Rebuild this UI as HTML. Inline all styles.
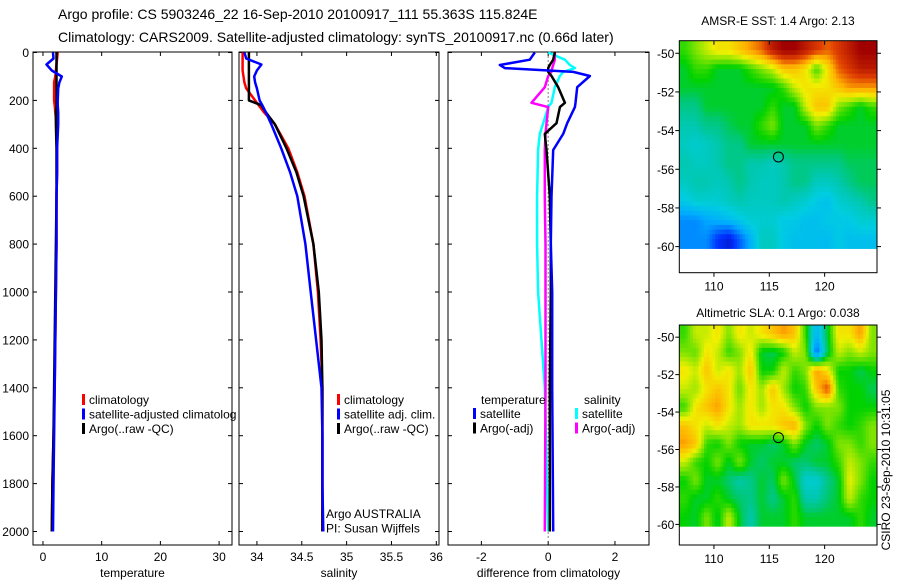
<!DOCTYPE html>
<html><head><meta charset="utf-8"><style>
html,body{margin:0;padding:0;background:#fff;}
svg{display:block;font-family:"Liberation Sans",sans-serif;}
</style></head><body>
<svg id="fig" width="900" height="580" viewBox="0 0 900 580" xmlns="http://www.w3.org/2000/svg">
<text x="58" y="19" font-size="14">Argo profile: CS 5903246_22 16-Sep-2010 20100917_111 55.363S 115.824E</text>
<text x="58" y="42" font-size="14">Climatology: CARS2009. Satellite-adjusted climatology: synTS_20100917.nc (0.66d later)</text>
<text x="778" y="25" font-size="12" text-anchor="middle">AMSR-E SST: 1.4 Argo: 2.13</text>
<text x="778" y="317" font-size="12" text-anchor="middle">Altimetric SLA: 0.1 Argo: 0.038</text>
<text transform="translate(890,470) rotate(-90)" font-size="12" text-anchor="middle">CSIRO 23-Sep-2010 10:31:05</text>
<g id="plots"></g>
</svg>
<script>
// ---- data ----
const depths = [0,25,50,75,100,125,150,200,220,250,300,400,500,600,800,1000,1200,1400,1600,1800,2000];
const tempClim = [2.5,2.4,2.3,2.2,2.1,1.9,1.9,1.9,2.0,2.1,2.3,2.4,2.4,2.3,2.3,2.2,2.1,2.0,1.8,1.6,1.5];
const tempSat  = [1.7,1.8,0.6,1.5,3.2,2.8,2.6,2.5,2.5,2.6,2.6,2.4,2.4,2.3,2.3,2.2,2.1,2.0,1.9,1.8,1.7];
const tempArgo = [2.3,2.3,2.3,2.3,2.3,2.3,2.3,2.3,2.3,2.2,2.2,2.3,2.3,2.3,2.2,2.1,2.0,1.9,1.8,1.6,1.5];
const salClim = [33.84,33.84,33.84,33.84,33.85,33.86,33.88,33.98,34.02,34.08,34.2,34.35,34.45,34.53,34.63,34.68,34.71,34.73,34.73,34.73,34.73];
const salSat  = [33.86,33.88,34.05,34.0,33.97,33.98,34.0,34.03,34.06,34.1,34.16,34.27,34.37,34.45,34.54,34.6,34.66,34.72,34.73,34.73,34.74];
const salArgo = [33.91,33.91,33.91,33.91,33.91,33.91,33.91,33.91,34.05,34.1,34.2,34.33,34.44,34.52,34.63,34.69,34.72,34.73,34.73,34.73,34.73];
const diffDepths = [0,30,52,65,81,98,145,210,228,295,340,407,600,800,1000,1400,2000];
const diffTempSat  = [-0.4,-0.55,-1.45,-1.3,0.75,1.25,0.87,0.82,0.8,0.57,0.45,0.15,0.1,0.08,0.12,0.12,0.15];
const diffTempArgo = [0.2,0.15,0.05,0.0,0.0,0.1,0.3,0.5,0.35,0.25,-0.1,-0.05,0.05,0.08,0.08,0.05,0.05];
const diffSalSat   = [0.0,0.5,0.65,0.8,0.45,0.35,0.2,0.1,0.0,-0.15,-0.25,-0.3,-0.33,-0.33,-0.3,-0.1,0.0];
const diffSalArgo  = [0.2,0.2,0.15,0.12,0.1,0.0,-0.1,-0.5,0.0,-0.05,-0.08,-0.1,-0.1,-0.08,-0.08,-0.08,-0.1];
const depthTicks = [0,200,400,600,800,1000,1200,1400,1600,1800,2000];
const tempTicks = [0,10,20,30];
const salTicks = [34,34.5,35,35.5,36];
const salTickLabels = ["34","34.5","35","35.5","36"];
const diffTicks = [-2,0,2];
const lonTicks = [110,115,120];
const latTicks = [-50,-52,-54,-56,-58,-60];
const argoLon = 115.824, argoLat = -55.363;
const sstGrid = [
[0.55,0.6,0.65,0.7,0.7,0.75,0.8,0.85,0.95,1,1,0.95,0.9,0.85,0.9,0.95,1,1],
[0.5,0.55,0.55,0.5,0.5,0.5,0.55,0.6,0.65,0.75,0.75,0.7,0.55,0.7,0.85,0.9,0.95,0.95],
[0.5,0.5,0.5,0.5,0.5,0.5,0.5,0.5,0.5,0.55,0.65,0.7,0.7,0.7,0.75,0.8,0.8,0.8],
[0.45,0.45,0.5,0.5,0.5,0.5,0.5,0.5,0.55,0.5,0.5,0.65,0.75,0.75,0.6,0.55,0.5,0.55],
[0.42,0.42,0.45,0.45,0.48,0.5,0.5,0.55,0.6,0.5,0.5,0.5,0.6,0.55,0.5,0.5,0.5,0.5],
[0.4,0.38,0.4,0.42,0.45,0.45,0.5,0.5,0.5,0.5,0.5,0.5,0.5,0.5,0.5,0.5,0.5,0.5],
[0.42,0.4,0.4,0.42,0.45,0.45,0.42,0.42,0.4,0.42,0.45,0.45,0.45,0.45,0.45,0.48,0.48,0.48],
[0.4,0.42,0.42,0.4,0.42,0.45,0.42,0.4,0.4,0.42,0.45,0.45,0.4,0.4,0.42,0.45,0.48,0.48],
[0.35,0.38,0.38,0.38,0.4,0.42,0.4,0.4,0.4,0.42,0.4,0.38,0.35,0.33,0.38,0.4,0.42,0.45],
[0.25,0.25,0.28,0.3,0.32,0.35,0.38,0.38,0.38,0.35,0.35,0.33,0.33,0.35,0.35,0.35,0.38,0.38],
[0.25,0.25,0.25,0.15,0.1,0.2,0.3,0.4,0.4,0.35,0.33,0.33,0.33,0.32,0.35,0.33,0.33,0.33]];
const slaGrid = [
[0.55,0.65,0.65,0.7,0.6,0.7,0.65,0.7,0.75,0.8,0.75,0.55,0.3,0.5,0.7,0.7,0.8,0.6],
[0.6,0.58,0.7,0.65,0.55,0.6,0.7,0.5,0.48,0.52,0.65,0.6,0.2,0.48,0.65,0.6,0.65,0.6],
[0.7,0.65,0.75,0.65,0.7,0.62,0.75,0.52,0.52,0.65,0.55,0.6,0.8,0.7,0.52,0.52,0.48,0.52],
[0.65,0.62,0.7,0.75,0.7,0.58,0.7,0.62,0.75,0.62,0.52,0.55,0.75,0.88,0.55,0.52,0.52,0.48],
[0.55,0.7,0.75,0.8,0.7,0.62,0.7,0.62,0.7,0.7,0.6,0.52,0.6,0.6,0.6,0.52,0.52,0.52],
[0.75,0.7,0.65,0.7,0.65,0.62,0.7,0.7,0.7,0.75,0.78,0.6,0.52,0.6,0.55,0.52,0.55,0.6],
[0.8,0.75,0.55,0.52,0.6,0.52,0.5,0.5,0.47,0.5,0.6,0.5,0.47,0.5,0.6,0.6,0.55,0.6],
[0.65,0.55,0.52,0.6,0.5,0.6,0.5,0.47,0.5,0.5,0.47,0.47,0.5,0.5,0.55,0.65,0.6,0.55],
[0.52,0.6,0.5,0.5,0.47,0.42,0.45,0.5,0.47,0.6,0.5,0.38,0.38,0.45,0.5,0.68,0.6,0.52],
[0.55,0.5,0.5,0.55,0.5,0.47,0.45,0.5,0.45,0.5,0.55,0.42,0.42,0.47,0.5,0.65,0.55,0.52],
[0.52,0.5,0.6,0.5,0.65,0.5,0.42,0.5,0.5,0.5,0.55,0.5,0.5,0.5,0.5,0.5,0.55,0.5]];

// ---- helpers ----
const NS="http://www.w3.org/2000/svg";
const root=document.getElementById('plots');
function mk(tag,attrs,parent){const e=document.createElementNS(NS,tag);for(const k in attrs)e.setAttribute(k,attrs[k]);(parent||root).appendChild(e);return e;}
const yDepth=d=>52.5+d*0.2395;
const P1={x0:33,x1:232,vmin:-1.7,vmax:32.2}, P2={x0:239,x1:439,vmin:33.8,vmax:36.03}, P3={x0:448,x1:649,vmin:-3,vmax:3.02};
const TOP=52,BOT=545;
function sx(p,v){return p.x0+(v-p.vmin)/(p.vmax-p.vmin)*(p.x1-p.x0);}

function panel(p,name,xt,xl,xlabel,showY){
  const g=mk('g',{});
  
  
  const r=mk('rect',{x:p.x0,y:TOP,width:p.x1-p.x0,height:BOT-TOP,fill:'none',stroke:'#000','stroke-width':1},g);
  
  
  depthTicks.forEach(d=>{
    const y=yDepth(d);
    mk('line',{x1:p.x0,x2:p.x0+4,y1:y,y2:y,stroke:'#000'},g);
    mk('line',{x1:p.x1,x2:p.x1-4,y1:y,y2:y,stroke:'#000'},g);
    if(showY){const t=mk('text',{x:p.x0-4,y:y+4.5,'font-size':12,'text-anchor':'end'},g);t.textContent=d;
      
      }
  });
  xt.forEach((v,i)=>{
    const x=sx(p,v);
    mk('line',{x1:x,x2:x,y1:TOP,y2:TOP+4,stroke:'#000'},g);
    mk('line',{x1:x,x2:x,y1:BOT,y2:BOT-4,stroke:'#000'},g);
    const t=mk('text',{x:x,y:561,'font-size':12,'text-anchor':'middle'},g);t.textContent=xl[i];
    
    
  });
  const t=mk('text',{x:(p.x0+p.x1)/2,y:577,'font-size':12,'text-anchor':'middle'},g);t.textContent=xlabel;
  
  
  return g;
}
function line(p,vals,ds,color,name,w,dash){
  const pts=vals.map((v,i)=>sx(p,v).toFixed(1)+','+yDepth(ds[i]).toFixed(1)).join(' ');
  const a={points:pts,fill:'none',stroke:color,'stroke-width':w||2.5,'stroke-linejoin':'round'};
  if(dash)a['stroke-dasharray']=dash;
  const e=mk('polyline',a);
  
  
}
function legend(x,y,items,name){
  const g=mk('g',{});
  
  
  items.forEach((it,i)=>{
    const yy=y+i*14.5;
    if(it[1])mk('rect',{x:it[2]||x,y:yy-10,width:3,height:11,fill:it[1]},g);
    const t=mk('text',{x:(it[2]||x)+(it[1]?7:0),y:yy,'font-size':12},g);t.textContent=it[0];
    
    
  });
}

panel(P1,'temperature-panel',tempTicks,tempTicks.map(String),'temperature',true);
panel(P2,'salinity-panel',salTicks,salTickLabels,'salinity',false);
panel(P3,'difference-panel',diffTicks,diffTicks.map(String),'difference from climatology',false);

line(P1,tempClim,depths,'#ff0000','temp-climatology-line');
line(P1,tempArgo,depths,'#000000','temp-argo-line');
line(P1,tempSat,depths,'#0000ff','temp-satellite-line');
line(P2,salClim,depths,'#ff0000','sal-climatology-line');
line(P2,salArgo,depths,'#000000','sal-argo-line');
line(P2,salSat,depths,'#0000ff','sal-satellite-line');

const zl=mk('line',{x1:sx(P3,0),x2:sx(P3,0),y1:yDepth(0),y2:yDepth(2000)+8,stroke:'#000','stroke-dasharray':'1,3'});


line(P3,diffSalSat,diffDepths,'#00ffff','sal-diff-satellite-line');
line(P3,diffSalArgo,diffDepths,'#ff00ff','sal-diff-argo-line');
line(P3,diffTempArgo,diffDepths,'#000000','temp-diff-argo-line');
line(P3,diffTempSat,diffDepths,'#0000ff','temp-diff-satellite-line');

legend(82,404,[['climatology','#ff0000'],['satellite-adjusted climatolog','#0000ff'],['Argo(..raw -QC)','#000000']],'temperature-legend');
legend(337,404,[['climatology','#ff0000'],['satellite adj. clim.','#0000ff'],['Argo(..raw -QC)','#000000']],'salinity-legend');
legend(326,518,[['Argo AUSTRALIA',null],['PI: Susan Wijffels',null]],'argo-info');
legend(481,404,[['temperature',null]],'diff-legend-temp-header');
legend(584,404,[['salinity',null]],'diff-legend-sal-header');
legend(473,418,[['satellite','#0000ff'],['Argo(-adj)','#000000']],'diff-legend-temperature');
legend(575,418,[['satellite','#00ffff'],['Argo(-adj)','#ff00ff']],'diff-legend-salinity');

// ---- maps ----
const stops=[[0,[0,0,140]],[0.15,[0,48,255]],[0.28,[0,168,255]],[0.36,[0,205,225]],[0.42,[0,200,175]],[0.47,[0,200,110]],[0.52,[0,210,0]],[0.6,[128,228,0]],[0.68,[240,240,0]],[0.78,[255,176,0]],[0.88,[224,64,0]],[1,[160,0,0]]];
function cmap(v){v=Math.max(0,Math.min(1,v));for(let i=1;i<stops.length;i++){if(v<=stops[i][0]){const a=stops[i-1],b=stops[i],t=(v-a[0])/(b[0]-a[0]);return 'rgb('+a[1].map((c,k)=>Math.round(c+(b[1][k]-c)*t)).join(',')+')';}}return 'rgb(160,0,0)';}
function sample(grid,fr,fc){
  const R=grid.length,C=grid[0].length;
  const r=Math.max(0,Math.min(R-1,fr-0.5)),c=Math.max(0,Math.min(C-1,fc-0.5));
  const r0=Math.floor(r),c0=Math.floor(c),r1=Math.min(R-1,r0+1),c1=Math.min(C-1,c0+1),tr=r-r0,tc=c-c0;
  return (grid[r0][c0]*(1-tc)+grid[r0][c1]*tc)*(1-tr)+(grid[r1][c0]*(1-tc)+grid[r1][c1]*tc)*tr;
}
function map(grid,top,bot,latBot,name){
  const L=679.3,R=877,lonMin=106.87,lonMax=124.73,latTop=-49.35;
  const mx=lo=>L+(lo-lonMin)/(lonMax-lonMin)*(R-L);
  const my=la=>top+(latTop-la)/(latTop-latBot)*(bot-top);
  const g=mk('g',{});
  
  
  const rows=grid.length,cols=grid[0].length,S=4;
  const dLat=(latTop+60.1)/(rows*S),dLon=(lonMax-lonMin)/(cols*S);
  for(let i=0;i<rows*S;i++)for(let j=0;j<cols*S;j++){
    const v=sample(grid,(i+0.5)/S,(j+0.5)/S);
    const x0=mx(lonMin+j*dLon),x1=mx(lonMin+(j+1)*dLon),y0=my(latTop-i*dLat),y1=my(latTop-(i+1)*dLat);
    const c=mk('rect',{x:x0.toFixed(2),y:y0.toFixed(2),width:(x1-x0+0.4).toFixed(2),height:(y1-y0+0.4).toFixed(2),fill:cmap(v)},g);
    
    
  }
  mk('rect',{x:L,y:top,width:R-L,height:bot-top,fill:'none',stroke:'#000'},g);
  latTicks.forEach(la=>{const y=my(la);
    mk('line',{x1:L,x2:L-4,y1:y,y2:y,stroke:'#000'},g);
    mk('line',{x1:R,x2:R+4,y1:y,y2:y,stroke:'#000'},g);
    const t=mk('text',{x:L-5,y:y+4.5,'font-size':12,'text-anchor':'end'},g);t.textContent=la;
    
    });
  lonTicks.forEach(lo=>{const x=mx(lo);
    mk('line',{x1:x,x2:x,y1:top,y2:top+4,stroke:'#000'},g);
    mk('line',{x1:x,x2:x,y1:bot,y2:bot+4,stroke:'#000'},g);
    const t=mk('text',{x:x,y:bot+18,'font-size':12,'text-anchor':'middle'},g);t.textContent=lo;
    
    });
  const c=mk('circle',{cx:mx(argoLon),cy:my(argoLat),r:5,fill:'none',stroke:'#000','stroke-width':1},g);
  
  
}
map(sstGrid,40.7,272.7,-61.35,'sst-map');
map(slaGrid,325,545,-61.1,'sla-map');
</script>
</body></html>
